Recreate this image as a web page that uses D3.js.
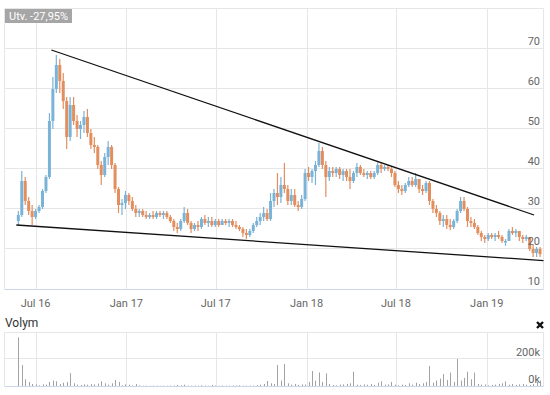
<!DOCTYPE html>
<meta charset="utf-8">

<style>

body {
  margin: 0;
  background: #fff;
}

svg text {
  font-family: Roboto, "Liberation Sans", Arial, sans-serif;
}

</style>

<svg class="chart" width="550" height="395"></svg>

<script src="https://d3js.org/d3.v7.min.js"></script>

<script>

// weekly candles, first one in the week of 27 May 2016
var firstWeek = "2016-05-27";

// [open, high, low, close]
var ohlc = [
  [27,29.5,26,28.5],[28.5,39.5,28,37],[37,38,31,32],[32,33,28.5,29.5],[29.5,31,26,28],
  [28,30,27.5,29.5],[29.5,31,29,30.5],[30.5,35,30,34.5],[34.5,38.5,34,38],[38,54,37.5,52],
  [52,63,50,60],[60,68.5,59,66],[66,67.5,59,62],[62,64,55,57],[57,58,45,48],
  [48,58,47,56],[56,58,51,52],[52,53.5,48,50],[50,52,47.5,51],[51,54.5,49,53],
  [53,55,48,49],[49,50,45,46],[46,48,44,45.5],[45.5,46,40,41],[41,42,36,38.5],
  [38.5,44,38,43],[43,47,41,45.5],[45.5,46,40,41],[41,41.5,34,35],[35,35.5,29,31],
  [31,32.5,28.5,31.5],[31.5,34.5,30,33.5],[33.5,34,31,32],[32,33,29.5,30],[30,31,28,29],
  [29,30,28,29.5],[29.5,30,28,28.5],[28.5,29.5,27.5,28],[28,29,27.5,28.5],[28.5,29.5,27.5,28],
  [28,29.5,27.5,29],[29,29.5,28,28.5],[28.5,29.5,27.5,29],[29,29.5,27.5,28],[28,28.5,26.5,27],
  [27,27.5,24.5,25.5],[25.5,26.5,24,25],[25,27.5,24.5,27],[27,30.5,26.5,29],[29,30,26,26.5],
  [26.5,27,24,25],[25,26.5,24.5,26],[26,27,24.5,25.5],[25.5,28,25,27.5],[27.5,28.5,26,26.5],
  [26.5,28,25.5,27],[27,28,25.5,26],[26,27.5,25.5,27],[27,27.5,25.5,26],[26,27.5,26,27],
  [27,27.5,26,26.5],[26.5,27.5,25.5,27],[27,27.5,25.5,26],[26,27,25,25.5],[25.5,26,24.5,25],
  [25,25.5,23,24],[24,25,22.5,23.5],[23.5,25,23,24.5],[24.5,26.5,24,26],[26,28,25.5,27],
  [27,29,26,28],[28,30.5,27,29],[29,30,27,27.5],[27.5,34,27,32],[32,35,30.5,34],
  [34,39,31,33],[33,38,31.5,36],[36,41.5,34,35],[35,36,31,32],[32,35,31,33.5],
  [33.5,35,30.5,31],[31,32,29.5,30.5],[30.5,33.5,30,32.5],[32.5,40,32,39],[39,40.5,37,38],
  [38,40,36.5,39.5],[39.5,42,36,41],[41,46.5,40.5,44.5],[44.5,45.5,40,41],[41,42,33,38],
  [38,40.5,37,39.5],[39.5,40.5,38,39],[39,40.5,38,40],[40,40.5,37.5,38.5],[38.5,40,37,39.5],
  [39.5,40,37,38],[38,40,35,37],[37,39.5,36.5,39],[39,41.5,38,40.5],[40.5,41,38.5,39],
  [39,40,38,38.5],[38.5,39.5,37.5,39],[39,39.5,37.5,38],[38,39.5,37.5,39],[39,41.7,38.5,41],
  [41,41.5,39,40],[40,41,39.5,40.5],[40.5,41,39.5,40],[40,40.5,38,39],[39,39.5,35.5,36],
  [36,37,34,35],[35,36,33.5,34.5],[34.5,36.5,34,36],[36,38,35.5,37],[37,38,35.5,36],
  [36,39,35.5,37.5],[37.5,37.5,34,35],[35,36,33.5,34.5],[34.5,37,34,36.5],[36.5,37,31,32],
  [32,32.5,29,30],[30,31,28,29],[29,29.5,26,27],[27,28.5,25.5,27.5],[27.5,28.5,25,26],
  [26,27.5,24.7,25.5],[25.5,27.5,25,27],[27,30,26.5,29.5],[29.5,33,29,32],[32,33,29.5,30],
  [30,30.5,25.5,27],[27,28,25.5,26.5],[26.5,27.5,25,25.5],[25.5,26,23.5,24],[24,24.5,22,23],
  [23,23.5,21.5,22.5],[22.5,24,22,23.5],[23.5,24,22.5,23],[23,24,22,23.5],[23.5,24.5,22.5,23],
  [23,23.5,21.5,22],[22,22.5,20.8,22],[22,25,22,24.5],[24.5,25.5,23.5,24],[24,25,23,24.5],
  [24.5,24.5,22,23],[23,23.5,21.5,22.5],[22.5,23.5,22,23],[23,23,19.5,20],[20,21,18,19],
  [19,20.5,18,20],[20,20.5,18,18.7]
];

// weekly volume, thousands
var volume = [
  360,155,50,30,15,12,5,12,10,30,
  40,35,15,25,30,95,20,10,8,12,
  10,15,12,18,35,20,10,20,45,30,
  5,12,10,5,15,5,2,2,2,3,
  2,2,3,2,3,4,8,5,10,3,
  2,4,3,5,3,2,8,3,2,4,
  3,2,4,3,5,3,2,4,3,6,
  10,15,37,20,15,155,40,163,20,10,
  15,8,12,10,30,111,40,100,30,94,
  15,8,5,10,12,15,20,106,10,8,
  12,10,15,8,25,35,10,12,30,10,
  5,10,8,20,10,25,15,20,30,148,
  25,40,55,89,45,100,30,200,40,60,
  106,50,100,15,10,12,5,8,10,15,
  20,35,10,15,8,12,15,10,8,15,
  30,40
];

var priceTicks = [10, 20, 30, 40, 50, 60, 70];
var volumeTicks = [0, 200];
var dateTicks = ["2016-07-01", "2017-01-01", "2017-07-01", "2018-01-01", "2018-07-01", "2019-01-01"];
var dateTickLabels = ["Jul 16", "Jan 17", "Jul 17", "Jan 18", "Jul 18", "Jan 19"];

// trend lines drawn on the chart, [date, price]
var upperTrend = [["2016-08-02", 69.75], ["2019-04-07", 28.5]];
var lowerTrend = [["2016-05-23", 26], ["2019-04-26", 17.1]];

var changeLabel = "Utv. -27,95%";
var volumeTitle = "Volym";

var parse = d3.utcParse("%Y-%m-%d");
var start = parse(firstWeek);
var candles = ohlc.map(function(d, i) {
  return { date: d3.utcDay.offset(start, 7 * i), o: d[0], h: d[1], l: d[2], c: d[3], v: volume[i] * 1000 };
});

var svg = d3.select("svg.chart");
var left = 4.5, right = 543.5;

var x = d3.scaleUtc()
  .domain([parse("2016-04-29"), parse("2019-04-26")])
  .range([left, right]);

var y = d3.scaleLinear().domain([10, 80]).range([289, 9]);
var yVol = d3.scaleLinear().domain([0, 400000]).range([386, 332]);

var gridColor = "#e6e6e6";
var labelColor = "#666";
var upColor = "#7ab3d8", downColor = "#e28e5e";

function crisp(v) { return Math.round(v) + 0.5; }

// ---- price panel grid
var grid = svg.append("g");

grid.selectAll("line.h")
  .data(priceTicks.slice(1))
  .enter().append("line")
    .attr("x1", left).attr("x2", right)
    .attr("y1", function(d) { return crisp(y(d)) - 1; })
    .attr("y2", function(d) { return crisp(y(d)) - 1; })
    .attr("stroke", gridColor);

grid.append("line")
  .attr("x1", left).attr("x2", right)
  .attr("y1", 8.5).attr("y2", 8.5)
  .attr("stroke", gridColor);

grid.selectAll("line.v")
  .data(dateTicks)
  .enter().append("line")
    .attr("x1", function(d) { return crisp(x(parse(d))); })
    .attr("x2", function(d) { return crisp(x(parse(d))); })
    .attr("y1", 8.5).attr("y2", 289)
    .attr("stroke", gridColor);

[left, right].forEach(function(px) {
  grid.append("line")
    .attr("x1", px).attr("x2", px)
    .attr("y1", 8.5).attr("y2", 289)
    .attr("stroke", gridColor);
});

svg.append("line")
  .attr("x1", left).attr("x2", right)
  .attr("y1", 289.5).attr("y2", 289.5)
  .attr("stroke", "#ccd6eb");

// ---- candles
var candleG = svg.append("g");
var bodyW = 3;

candleG.selectAll("line")
  .data(candles)
  .enter().append("line")
    .attr("x1", function(d) { return x(d.date); })
    .attr("x2", function(d) { return x(d.date); })
    .attr("y1", function(d) { return y(d.h); })
    .attr("y2", function(d) { return y(d.l); })
    .attr("stroke", function(d) { return d.c >= d.o ? upColor : downColor; })
    .attr("stroke-width", 1.2);

candleG.selectAll("rect")
  .data(candles)
  .enter().append("rect")
    .attr("x", function(d) { return x(d.date) - bodyW / 2; })
    .attr("width", bodyW)
    .attr("y", function(d) { return y(Math.max(d.o, d.c)); })
    .attr("height", function(d) { return Math.max(1.5, Math.abs(y(d.o) - y(d.c))); })
    .attr("fill", function(d) { return d.c >= d.o ? upColor : downColor; });

// ---- trend lines
var trendLine = d3.line()
  .x(function(d) { return x(parse(d[0])); })
  .y(function(d) { return y(d[1]); });

[upperTrend, lowerTrend].forEach(function(t) {
  svg.append("path")
    .attr("d", trendLine(t))
    .attr("fill", "none")
    .attr("stroke", "#111")
    .attr("stroke-width", 1.3);
});

// ---- price labels
svg.selectAll("text.price")
  .data(priceTicks)
  .enter().append("text")
    .attr("class", "price")
    .attr("x", 540)
    .attr("y", function(d) { return y(d) - 4; })
    .attr("text-anchor", "end")
    .attr("fill", labelColor)
    .style("font-size", "11px")
    .text(function(d) { return d; });

svg.selectAll("text.date")
  .data(dateTicks)
  .enter().append("text")
    .attr("class", "date")
    .attr("x", function(d) { return x(parse(d)); })
    .attr("y", 307)
    .attr("text-anchor", "middle")
    .attr("fill", labelColor)
    .style("font-size", "11px")
    .text(function(d, i) { return dateTickLabels[i]; });

// ---- change badge
svg.append("rect")
  .attr("x", 5).attr("y", 9)
  .attr("width", 67).attr("height", 14)
  .attr("fill", "#a6a6a6");

svg.append("text")
  .attr("x", 9).attr("y", 20)
  .attr("fill", "#fff")
  .style("font-size", "11px")
  .text(changeLabel);

// ---- volume panel
var vol = svg.append("g");

vol.append("text")
  .attr("x", 5).attr("y", 327)
  .attr("fill", "#333")
  .style("font-size", "12px")
  .text(volumeTitle);

vol.append("line")
  .attr("x1", left).attr("x2", right)
  .attr("y1", 332.5).attr("y2", 332.5)
  .attr("stroke", gridColor);

vol.append("line")
  .attr("x1", left).attr("x2", right)
  .attr("y1", crisp(yVol(200000)) - 1).attr("y2", crisp(yVol(200000)) - 1)
  .attr("stroke", gridColor);

vol.selectAll("line.v")
  .data(dateTicks)
  .enter().append("line")
    .attr("x1", function(d) { return crisp(x(parse(d))); })
    .attr("x2", function(d) { return crisp(x(parse(d))); })
    .attr("y1", 332.5).attr("y2", 386)
    .attr("stroke", gridColor);

[left, right].forEach(function(px) {
  vol.append("line")
    .attr("x1", px).attr("x2", px)
    .attr("y1", 332.5).attr("y2", 386)
    .attr("stroke", gridColor);
});

vol.append("line")
  .attr("x1", left).attr("x2", right)
  .attr("y1", 386.5).attr("y2", 386.5)
  .attr("stroke", "#ccd6eb");

vol.selectAll("rect.bar")
  .data(candles)
  .enter().append("rect")
    .attr("class", "bar")
    .attr("x", function(d) { return Math.round(x(d.date)); })
    .attr("width", 1)
    .attr("y", function(d) { return yVol(d.v); })
    .attr("height", function(d) { return 386 - yVol(d.v); })
    .attr("fill", "#a3a3a3");

vol.selectAll("text.vol")
  .data(volumeTicks)
  .enter().append("text")
    .attr("class", "vol")
    .attr("x", 540)
    .attr("y", function(d) { return yVol(d * 1000) - 3; })
    .attr("text-anchor", "end")
    .attr("fill", labelColor)
    .style("font-size", "11px")
    .text(function(d) { return d + "k"; });

// close icon
vol.append("path")
  .attr("d", "M537,322L543,328M543,322L537,328")
  .attr("stroke", "#111")
  .attr("stroke-width", 2.4);

</script>
